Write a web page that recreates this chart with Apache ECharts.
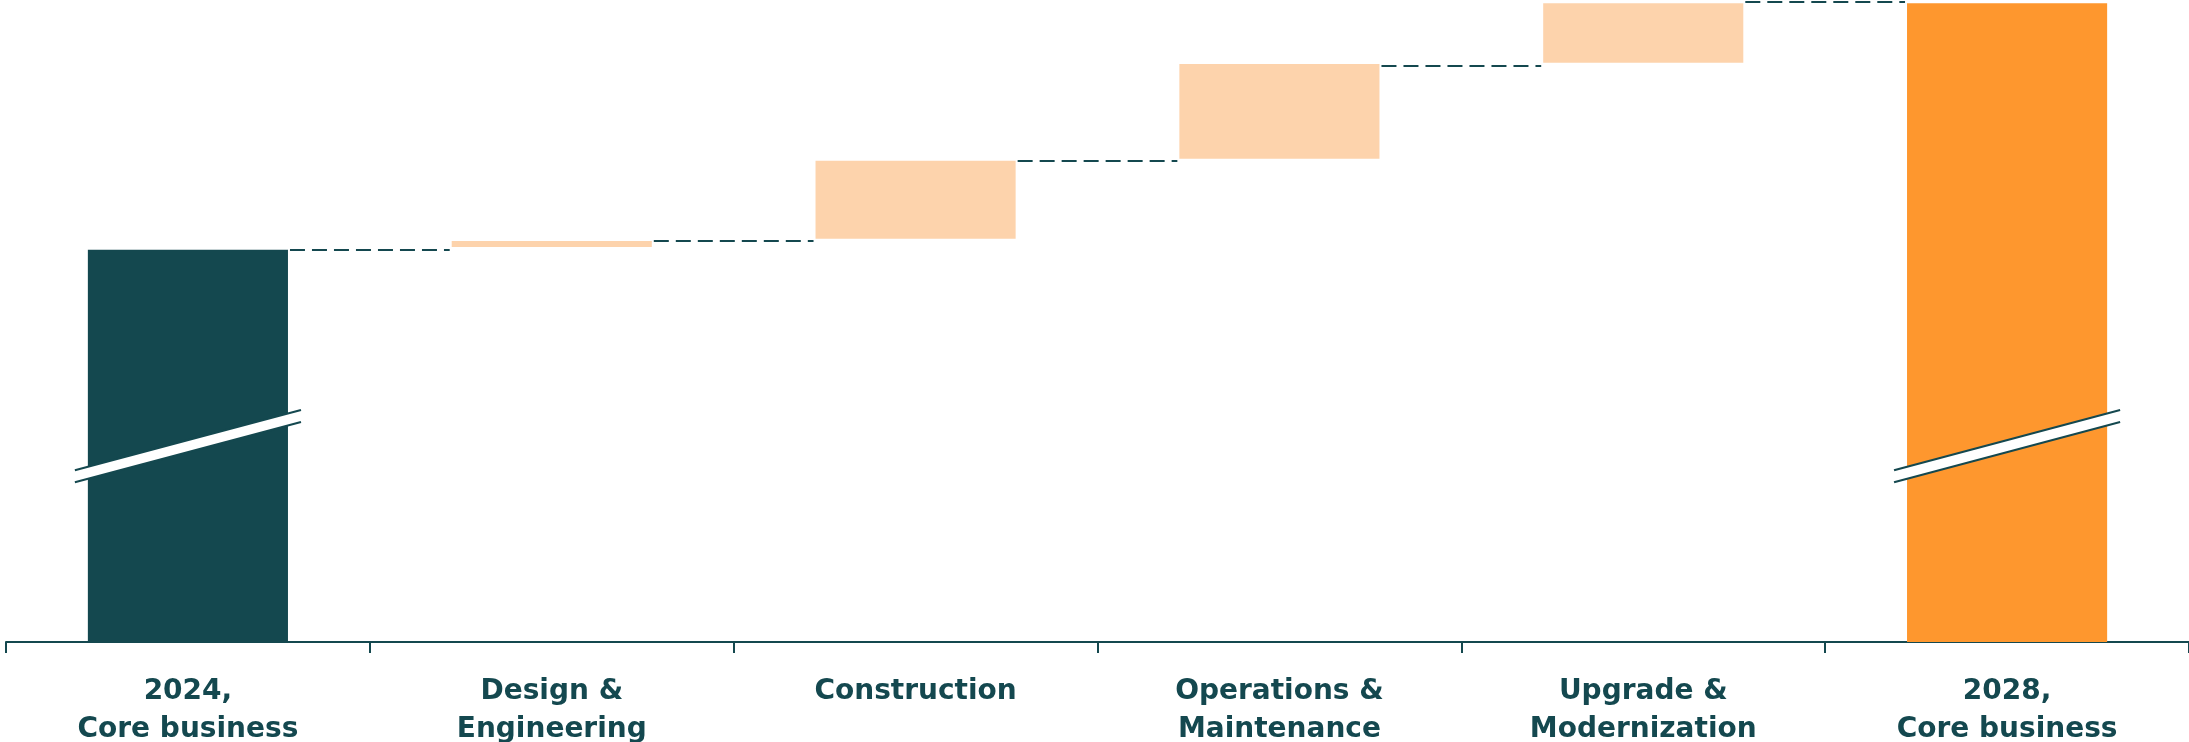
<!DOCTYPE html>
<html><head><meta charset="utf-8">
<script src="https://cdn.jsdelivr.net/npm/echarts@6/dist/echarts.min.js"></script>
<style>html,body{margin:0;padding:0;background:#fff}#c{width:2189px;height:742px}</style>
</head><body><div id="c"></div>
<script>
// ---- data (arbitrary units, axis is broken) ----
const categories = ['2024,\nCore business', 'Design &\nEngineering', 'Construction', 'Operations &\nMaintenance', 'Upgrade &\nModernization', '2028,\nCore business'];
const barBases = [0, 61.7, 63.0, 75.5, 90.5, 0];
const barTops = [61.3, 62.65, 75.2, 90.3, 99.8, 99.8];
const connectorLevels = [61.25, 62.7, 75.2, 90.05, 100];
const barKinds = ['start', 'delta', 'delta', 'delta', 'delta', 'end'];
const breakBars = [0, 5];
const breakLevel = 30.6;

const DARK = '#14484f', ORANGE = '#fe972e', PEACH = '#fdd3ac';
const kindColor = {start: DARK, delta: PEACH, end: ORANGE};

const chart = echarts.init(document.getElementById('c'), null, {renderer: 'canvas'});
const BAR_FRAC = 0.55;

chart.setOption({
  animation: false,
  backgroundColor: '#ffffff',
  grid: {left: 6, right: 0, top: 2, bottom: 100, containLabel: false, outerBoundsMode: 'none'},
  xAxis: {
    type: 'category',
    data: categories,
    axisLine: {lineStyle: {color: DARK, width: 2}},
    axisTick: {show: true, length: 11, lineStyle: {color: DARK, width: 2}},
    axisLabel: {interval: 0, fontSize: 28, fontWeight: 'bold', lineHeight: 38, color: DARK, fontFamily: 'DejaVu Sans', margin: 31}
  },
  yAxis: {type: 'value', min: 0, max: 100, show: false, splitLine: {show: false}},
  series: [
    {
      type: 'bar', stack: 'w', barWidth: (BAR_FRAC * 100) + '%', silent: true,
      itemStyle: {color: 'rgba(0,0,0,0)'},
      data: barBases
    },
    {
      type: 'bar', stack: 'w', barWidth: (BAR_FRAC * 100) + '%',
      data: barTops.map((t, i) => ({value: t - barBases[i], itemStyle: {color: kindColor[barKinds[i]]}}))
    },
    {
      type: 'custom', clip: false, z: 5,
      data: connectorLevels.map((v, i) => [i, v]),
      renderItem: function (params, api) {
        const i = api.value(0), v = api.value(1);
        const p1 = api.coord([i, v]), p2 = api.coord([i + 1, v]);
        const bw = api.size([1, 0])[0] * BAR_FRAC;
        const y = Math.round(p1[1]);
        return {
          type: 'line',
          shape: {x1: p1[0] + bw / 2 + 2, y1: y, x2: p2[0] - bw / 2 - 2, y2: y},
          style: {stroke: DARK, lineWidth: 2, lineDash: [15, 7]}
        };
      }
    },
    {
      type: 'custom', clip: false, z: 6,
      data: breakBars.map(i => [i, breakLevel]),
      renderItem: function (params, api) {
        const c = api.coord([api.value(0), api.value(1)]);
        const bw = api.size([1, 0])[0] * BAR_FRAC;
        const hw = bw / 2 + 13, dy = hw * 0.266, g = 6;
        const cx = c[0], cy = c[1];
        return {
          type: 'group',
          children: [
            {type: 'polygon', shape: {points: [[cx - hw, cy + dy - g], [cx + hw, cy - dy - g], [cx + hw, cy - dy + g], [cx - hw, cy + dy + g]]}, style: {fill: '#ffffff'}},
            {type: 'line', shape: {x1: cx - hw, y1: cy + dy - g, x2: cx + hw, y2: cy - dy - g}, style: {stroke: DARK, lineWidth: 2}},
            {type: 'line', shape: {x1: cx - hw, y1: cy + dy + g, x2: cx + hw, y2: cy - dy + g}, style: {stroke: DARK, lineWidth: 2}}
          ]
        };
      }
    }
  ]
});
</script>
</body></html>
